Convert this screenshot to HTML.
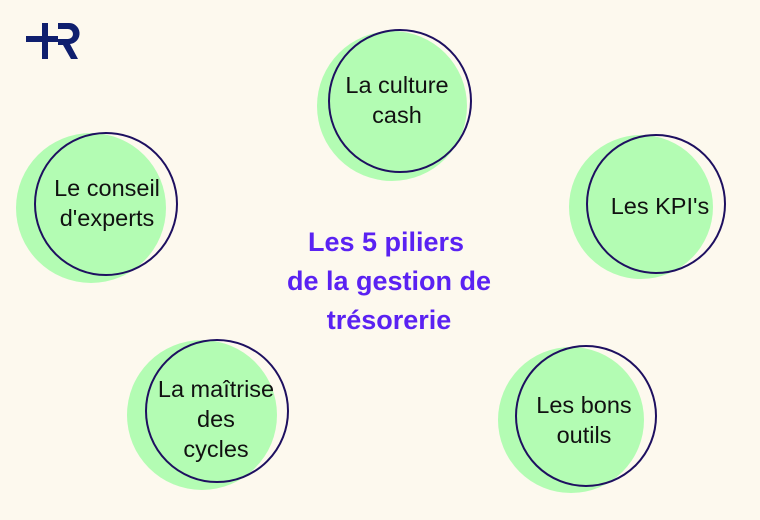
<!DOCTYPE html>
<html><head><meta charset="utf-8"><style>
body{margin:0;background:#fdf9ee;}
svg{display:block}
</style></head><body>
<svg width="760" height="520" viewBox="0 0 760 520">
<rect width="760" height="520" fill="#fdf9ee"/>
<g fill="#0f1f6e">
<rect x="26" y="36" width="32" height="6"/>
<rect x="42" y="23" width="6" height="36"/>
<path d="M58 23 H68 A10.5 10.5 0 0 1 70 44 L78 59 H71 L63 45 H58 V39 H68 A5 5 0 0 0 68 29 H58 Z"/>
</g>
<g fill="#b3fcb3">
<circle cx="392" cy="106" r="75"/>
<circle cx="91" cy="208" r="75"/>
<circle cx="641" cy="207" r="72"/>
<circle cx="202" cy="415" r="75"/>
<circle cx="571" cy="420" r="73"/>
</g>
<g fill="none" stroke="#1e1060" stroke-width="2">
<circle cx="400" cy="101" r="71"/>
<circle cx="106" cy="204" r="71"/>
<circle cx="656" cy="204" r="69"/>
<circle cx="217" cy="411" r="71"/>
<circle cx="586" cy="416" r="70"/>
</g>
<g font-family="Liberation Sans, sans-serif" font-size="23.5" fill="#111" text-anchor="middle">
<text x="397" y="93">La culture</text>
<text x="397" y="123">cash</text>
<text x="107" y="196">Le conseil</text>
<text x="107" y="226">d'experts</text>
<text x="660" y="214">Les KPI's</text>
<text x="216" y="397">La maîtrise</text>
<text x="216" y="427">des</text>
<text x="216" y="457">cycles</text>
<text x="584" y="413">Les bons</text>
<text x="584" y="443">outils</text>
</g>
<g font-family="Liberation Sans, sans-serif" font-size="27" font-weight="bold" fill="#5a22f2" text-anchor="middle">
<text x="386" y="251">Les 5 piliers</text>
<text x="389" y="290">de la gestion de</text>
<text x="389" y="329">trésorerie</text>
</g>
</svg>
</body></html>
